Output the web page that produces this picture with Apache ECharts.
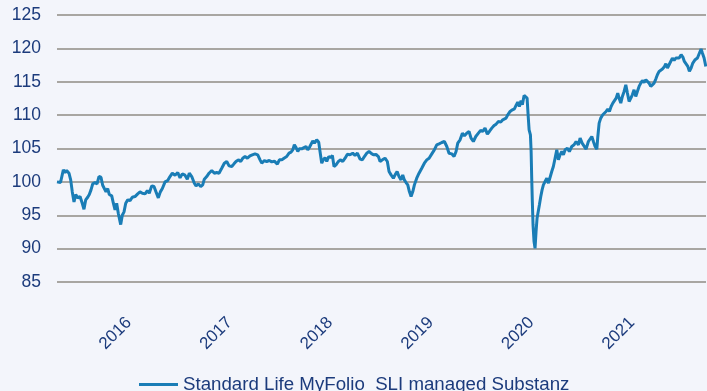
<!DOCTYPE html>
<html>
<head>
<meta charset="utf-8">
<script src="https://cdn.jsdelivr.net/npm/echarts@6/dist/echarts.min.js"></script>
<style>
  html, body { margin: 0; padding: 0; background: #f3f5fb; }
  #chart { width: 707px; height: 391px; }
</style>
</head>
<body>
<div id="chart"></div>
<script>
// Fund performance, indexed to 100 at the start of the period (decimal-year dates)
const seriesName = 'Standard Life MyFolio  SLI managed Substanz';

const dates = [
  2015.470, 2015.505, 2015.533, 2015.550, 2015.566, 2015.589, 2015.606, 2015.622, 2015.639, 2015.656,
  2015.676, 2015.699, 2015.721, 2015.738, 2015.755, 2015.775, 2015.791, 2015.808, 2015.825, 2015.848,
  2015.868, 2015.887, 2015.907, 2015.924, 2015.940, 2015.957, 2015.974, 2015.990, 2016.014, 2016.030,
  2016.047, 2016.063, 2016.079, 2016.103, 2016.119, 2016.136, 2016.153, 2016.173, 2016.196, 2016.218,
  2016.245, 2016.272, 2016.295, 2016.318, 2016.345, 2016.368, 2016.387, 2016.411, 2016.434, 2016.454,
  2016.477, 2016.497, 2016.517, 2016.544, 2016.570, 2016.593, 2016.616, 2016.643, 2016.670, 2016.693,
  2016.715, 2016.742, 2016.765, 2016.785, 2016.809, 2016.835, 2016.852, 2016.875, 2016.898, 2016.918,
  2016.934, 2016.958, 2016.981, 2017.008, 2017.034, 2017.057, 2017.080, 2017.107, 2017.133, 2017.157,
  2017.180, 2017.207, 2017.229, 2017.249, 2017.272, 2017.296, 2017.316, 2017.339, 2017.362, 2017.388,
  2017.411, 2017.438, 2017.465, 2017.488, 2017.505, 2017.531, 2017.554, 2017.580, 2017.604, 2017.630,
  2017.660, 2017.680, 2017.704, 2017.726, 2017.753, 2017.776, 2017.796, 2017.813, 2017.829, 2017.846,
  2017.863, 2017.878, 2017.902, 2017.925, 2017.945, 2017.962, 2017.978, 2017.995, 2018.012, 2018.028,
  2018.051, 2018.071, 2018.084, 2018.101, 2018.117, 2018.134, 2018.151, 2018.171, 2018.191, 2018.207,
  2018.223, 2018.243, 2018.266, 2018.290, 2018.310, 2018.333, 2018.356, 2018.382, 2018.409, 2018.432,
  2018.455, 2018.482, 2018.505, 2018.525, 2018.549, 2018.571, 2018.591, 2018.614, 2018.641, 2018.664,
  2018.681, 2018.704, 2018.730, 2018.753, 2018.770, 2018.790, 2018.813, 2018.830, 2018.850, 2018.869,
  2018.889, 2018.906, 2018.922, 2018.939, 2018.956, 2018.972, 2018.989, 2019.006, 2019.022, 2019.045,
  2019.068, 2019.095, 2019.121, 2019.145, 2019.168, 2019.195, 2019.220, 2019.244, 2019.267, 2019.294,
  2019.320, 2019.344, 2019.366, 2019.393, 2019.416, 2019.436, 2019.453, 2019.476, 2019.499, 2019.519,
  2019.542, 2019.565, 2019.585, 2019.608, 2019.632, 2019.658, 2019.680, 2019.701, 2019.724, 2019.747,
  2019.767, 2019.791, 2019.814, 2019.834, 2019.857, 2019.880, 2019.900, 2019.916, 2019.933, 2019.950,
  2019.973, 2019.996, 2020.016, 2020.032, 2020.049, 2020.065, 2020.082, 2020.095, 2020.112, 2020.129,
  2020.142, 2020.152, 2020.162, 2020.175, 2020.182, 2020.188, 2020.194, 2020.201, 2020.211, 2020.221,
  2020.231, 2020.241, 2020.251, 2020.264, 2020.278, 2020.291, 2020.304, 2020.321, 2020.338, 2020.354,
  2020.370, 2020.387, 2020.403, 2020.420, 2020.437, 2020.453, 2020.470, 2020.487, 2020.503, 2020.520,
  2020.543, 2020.562, 2020.586, 2020.609, 2020.629, 2020.652, 2020.669, 2020.689, 2020.708, 2020.728,
  2020.751, 2020.768, 2020.785, 2020.801, 2020.818, 2020.835, 2020.845, 2020.858, 2020.874, 2020.894,
  2020.910, 2020.927, 2020.944, 2020.960, 2020.977, 2020.994, 2021.010, 2021.027, 2021.043, 2021.056,
  2021.073, 2021.089, 2021.106, 2021.123, 2021.139, 2021.156, 2021.173, 2021.188, 2021.205, 2021.222,
  2021.238, 2021.255, 2021.272, 2021.288, 2021.305, 2021.322, 2021.338, 2021.354, 2021.371, 2021.387,
  2021.404, 2021.421, 2021.437, 2021.454, 2021.471, 2021.487, 2021.504, 2021.521, 2021.537, 2021.553,
  2021.570, 2021.586, 2021.603, 2021.620, 2021.636, 2021.653, 2021.673, 2021.690, 2021.705, 2021.722,
  2021.739, 2021.755, 2021.772, 2021.789, 2021.812, 2021.835, 2021.855, 2021.871, 2021.884, 2021.901,
  2021.918
];

const values = [
  100.0, 99.9, 101.8, 101.4, 101.7, 101.3, 100.3, 98.5, 97.0, 98.1,
  97.6, 97.8, 96.8, 95.9, 97.3, 97.7, 98.1, 98.8, 99.7, 99.9,
  99.7, 100.8, 100.7, 99.5, 99.7, 98.5, 99.0, 98.1, 97.9, 96.8,
  95.8, 96.8, 95.3, 93.6, 95.0, 95.5, 96.8, 97.3, 97.2, 97.7,
  97.8, 98.2, 98.5, 98.3, 98.2, 98.7, 98.3, 99.4, 99.3, 98.5,
  97.6, 98.5, 99.0, 100.0, 100.2, 100.8, 101.3, 101.0, 101.4, 100.6,
  101.2, 101.0, 100.4, 101.3, 100.8, 99.8, 99.4, 99.7, 99.3, 99.55,
  100.4, 100.8, 101.3, 101.7, 101.3, 101.4, 101.3, 102.05, 102.8, 103.05,
  102.4, 102.3, 102.7, 103.05, 103.3, 103.05, 103.55, 103.8, 103.55, 103.9,
  104.05, 104.2, 104.05, 103.3, 102.8, 103.2, 103.05, 103.2, 103.0, 103.1,
  102.65, 103.3, 103.3, 103.55, 103.8, 104.3, 104.45, 104.8, 105.55, 105.15,
  104.55, 104.95, 104.95, 105.15, 105.3, 104.8, 105.15, 105.3, 106.15, 105.8,
  106.3, 105.95, 104.55, 102.8, 103.3, 103.65, 103.05, 103.8, 103.65, 103.95,
  102.3, 102.55, 103.05, 103.3, 103.05, 103.55, 104.15, 104.05, 104.3, 103.95,
  104.3, 103.4, 103.3, 103.8, 104.3, 104.55, 104.3, 104.05, 104.1, 103.8,
  103.05, 103.3, 103.55, 103.05, 101.55, 101.05, 100.55, 101.05, 101.55, 100.8,
  100.3, 101.05, 100.3, 99.9, 99.55, 98.55, 97.8, 98.55, 99.55, 100.55,
  101.3, 102.05, 102.8, 103.3, 103.55, 104.2, 104.8, 105.55, 105.7, 105.9,
  106.05, 105.3, 104.3, 104.2, 103.8, 104.55, 105.8, 106.3, 107.3, 106.9,
  107.3, 107.55, 106.55, 106.05, 106.8, 107.3, 107.7, 107.55, 108.05, 107.15,
  107.55, 108.05, 108.45, 108.65, 109.05, 108.95, 109.3, 109.05, 109.55, 110.05,
  110.55, 110.8, 110.95, 111.45, 111.95, 111.3, 112.15, 111.55, 112.95, 113.05,
  112.55, 110.05, 107.8, 107.05, 104.55, 100.55, 97.05, 93.55, 91.05, 90.05,
  92.55, 94.55, 94.8, 96.55, 97.8, 98.8, 99.55, 100.05, 100.55, 99.8,
  100.05, 101.55, 102.3, 103.55, 104.8, 103.3, 104.05, 104.55, 104.05, 104.8,
  105.05, 104.55, 105.3, 105.55, 106.05, 105.55, 106.55, 105.8, 105.55, 104.9,
  106.05, 106.3, 106.8, 106.05, 105.3, 104.9, 106.8, 108.8, 109.55, 110.05,
  110.3, 110.55, 110.9, 110.55, 111.3, 111.8, 112.05, 112.55, 113.3, 112.55,
  111.8, 112.8, 113.55, 114.55, 113.3, 112.05, 112.55, 113.05, 113.8, 112.8,
  113.55, 114.3, 114.8, 115.2, 114.9, 115.3, 115.05, 114.8, 114.3, 114.05,
  114.8, 115.4, 116.05, 116.55, 116.3, 116.9, 117.2, 117.7, 117.05, 117.55,
  117.8, 118.55, 118.2, 118.55, 118.8, 118.55, 119.05, 118.7, 118.05, 117.8,
  117.3, 116.55, 117.05, 117.8, 118.3, 118.55, 119.3, 119.9, 119.3, 118.55,
  117.3
];

// Year labels and where they sit on the date scale
const yearTicks = [2016.185, 2017.185, 2018.185, 2019.185, 2020.185, 2021.185];
const yearLabels = ['2016', '2017', '2018', '2019', '2020', '2021'];

const textColor = '#1c3b7c';
const lineColor = '#1a7db6';
const fontFamily = '"Liberation Sans", Arial, sans-serif';

const points = dates.map((d, i) => [d, values[i]]);

const chart = echarts.init(document.getElementById('chart'), null, { renderer: 'canvas' });
chart.setOption({
  backgroundColor: '#f3f5fb',
  animation: false,
  grid: { left: 57, right: 1, top: 15, bottom: 109, containLabel: false },
  xAxis: {
    type: 'value',
    min: 2015.47,
    max: 2021.92,
    axisLine: { show: false },
    axisTick: { show: false },
    splitLine: { show: false },
    axisLabel: {
      customValues: yearTicks,
      rotate: 45,
      margin: 38,
      color: textColor,
      fontSize: 17,
      fontFamily: fontFamily,
      formatter: function (val) {
        const idx = yearTicks.findIndex(t => Math.abs(t - val) < 1e-6);
        return idx >= 0 ? yearLabels[idx] : '';
      }
    }
  },
  yAxis: {
    type: 'value',
    min: 85,
    max: 125,
    interval: 5,
    axisLine: { show: false },
    axisTick: { show: false },
    axisLabel: {
      margin: 16,
      color: textColor,
      fontSize: 17.5,
      fontFamily: fontFamily
    },
    splitLine: { lineStyle: { color: '#8f8b84', width: 1.5 } }
  },
  legend: {
    left: 134,
    top: 370,
    icon: 'rect',
    itemWidth: 39,
    itemHeight: 3,
    itemGap: 10,
    textStyle: {
      color: textColor,
      fontSize: 18.7,
      fontFamily: fontFamily
    },
    data: [seriesName]
  },
  series: [{
    name: seriesName,
    type: 'line',
    data: points,
    showSymbol: false,
    symbol: 'none',
    lineStyle: { color: lineColor, width: 3 },
    itemStyle: { color: lineColor }
  }]
});
</script>
</body>
</html>
